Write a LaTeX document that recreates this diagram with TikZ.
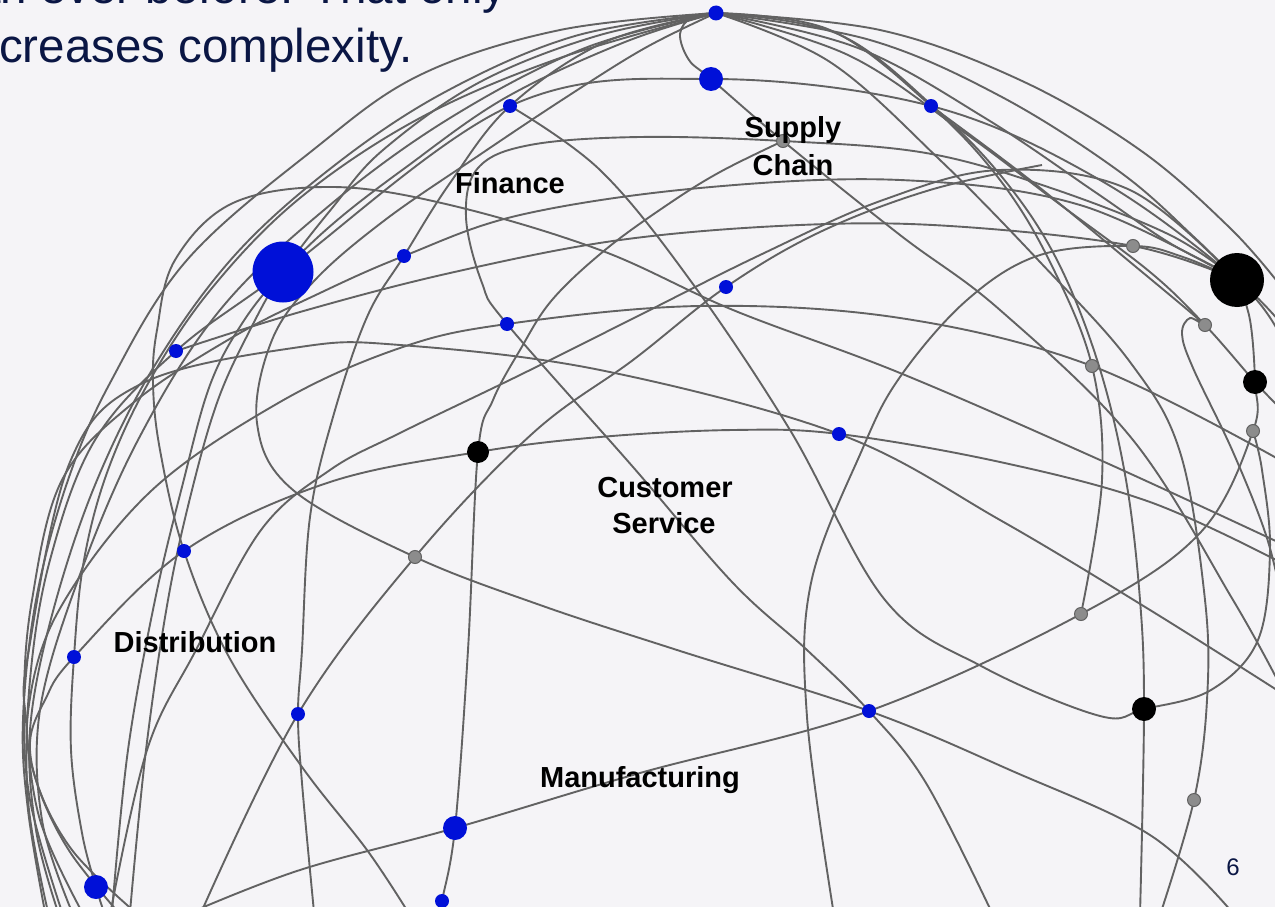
\documentclass[tikz,border=0pt]{standalone}
\usepackage{fontspec}
\setmainfont{Liberation Sans}
\definecolor{bg}{RGB}{245,244,247}
\definecolor{wirec}{RGB}{98,98,98}
\definecolor{dotblue}{RGB}{0,16,216}
\definecolor{dotgray}{RGB}{140,140,140}
\definecolor{navy}{RGB}{10,22,68}
\begin{document}
\begin{tikzpicture}[x=1pt,y=-1pt,
  wire/.style={draw=wirec, line width=1.9pt},
  bd/.style={circle, fill=dotblue, inner sep=0pt, minimum size=#1},
  kd/.style={circle, fill=black, inner sep=0pt, minimum size=#1},
  gd/.style={circle, fill=dotgray, draw=wirec, line width=1pt, inner sep=0pt, minimum size=#1},
  lab/.style={anchor=base, inner sep=0pt, text=black, font=\fontsize{29}{37}\selectfont\bfseries},
  head/.style={inner sep=0pt, text=navy, font=\fontsize{47.5}{56}\selectfont}]
\useasboundingbox (0,0) rectangle (1275,907);
\fill[bg] (0,0) rectangle (1275,907);
\begin{scope}
\clip (0,0) rectangle (1275,907);
% dot positions
\coordinate (bT) at (716,13);
\coordinate (bSC) at (711,79);
\coordinate (bF) at (510,106);
\coordinate (bTR) at (931,106);
\coordinate (bBig) at (283,272);
\coordinate (bW) at (404,256);
\coordinate (bG) at (176,351);
\coordinate (bJ) at (507,324);
\coordinate (bP) at (726,287);
\coordinate (bQ) at (839,434);
\coordinate (bN) at (184,551);
\coordinate (bU) at (74,657);
\coordinate (bW2) at (298,714);
\coordinate (bM) at (869,711);
\coordinate (bV) at (455,828);
\coordinate (bL) at (96,887);
\coordinate (bV2) at (442,901);
\coordinate (kR) at (1237,280);
\coordinate (kQ) at (478,452);
\coordinate (kE) at (1255,382);
\coordinate (kLp) at (1144,709);
\coordinate (gSC) at (783,141);
\coordinate (gH) at (1133,246);
\coordinate (gK) at (1205,325);
\coordinate (gD) at (1092,366);
\coordinate (gE) at (1253,431);
\coordinate (gF) at (415,557);
\coordinate (gD1) at (1081,614);
\coordinate (gD3) at (1194,800);
% curves
\begin{scope}[wire]
\draw plot[smooth, tension=0.6] coordinates {(bT) (560,30) (420,75) (313,150) (187,260) (110,383) (67,483) (36,600) (23,720) (28,810) (45,912)};
\draw plot[smooth, tension=0.6] coordinates {(bT) (575,36) (445,92) (335,165) (235,255) (155,365) (95,485) (52,615) (30,730) (36,830) (58,912)};
\draw plot[smooth, tension=0.6] coordinates {(bT) (585,48) (450,118) (330,205) (220,310) (138,440) (78,580) (40,710) (42,820) (72,912)};
\draw plot[smooth, tension=0.6] coordinates {(bT) (600,35) (480,82) (383,150) (333,207) (bBig) (250,330) (218,400) (192,490) (168,600) (146,750) (130,912)};
\draw plot[smooth, tension=0.6] coordinates {(bT) (625,42) (505,98) (405,168) (335,222) (bBig) (243,322) (210,385) (183,483) (155,600) (128,750) (112,912)};
\draw plot[smooth, tension=0.6] coordinates {(bT) (560,58) (420,118) (300,198) (212,288) (150,380) (108,470) (84,560) (bU) (71,750) (82,833) (bL) (104,912)};
\draw plot[smooth, tension=0.6] coordinates {(bT) (605,42) (bF) (450,183) (bW) (367,317) (333,417) (310,517) (302,650) (bW2) (302,783) (314,912)};
\draw plot[smooth, tension=0.6] coordinates {(bT) (645,48) (565,98) (475,158) (385,220) (315,280) (272,340) (257,423) (293,490) (gF) (540,605) (677,650) (bM) (1010,770) (1150,835) (1232,912)};
\draw plot[smooth, tension=0.6] coordinates {(48,912) (28,800) (30,680) (50,560) (95,440) (bG) (bBig) (bF) (bSC) (bTR) (1100,180) (kR) (1280,335)};
\draw plot[smooth, tension=0.6] coordinates {(bG) (300,312) (450,273) (620,240) (800,225) (950,226) (gH) (kR)};
\draw plot[smooth, tension=0.6] coordinates {(62,912) (30,800) (24,700) (32,600) (62,480) (133,403) (233,337) (320,293) (bW) (520,215) (700,188) (900,180) (1080,205) (kR)};
\draw plot[smooth, tension=0.6] coordinates {(408,912) (367,850) (302,767) (229,657) (bN) (160,450) (153,383) (157,330) (175,260) (233,203) (333,187) (450,205) (600,250) (733,310) (900,373) (1100,460) (1280,543)};
\draw plot[smooth, tension=0.6] coordinates {(118,912) (70,852) (40,792) (30,742) (45,700) (bU) (bN) (327,483) (kQ) (600,437) (733,430) (bQ) (1000,462) (1150,502) (1280,562)};
\draw plot[smooth, tension=0.6] coordinates {(135,912) (72,850) (36,780) (28,712) (58,612) (150,492) (280,402) (400,348) (bJ) (700,306) (900,318) (gD) (1280,460)};
\draw plot[smooth, tension=0.6] coordinates {(82,912) (40,820) (26,720) (28,655) (70,462) (143,383) (300,347) (400,345) (600,370) (bQ) (1000,520) (1150,610) (1280,692)};
\draw plot[smooth, tension=0.6] coordinates {(440,915) (bV2) (bV) (468,650) (kQ) (493,400) (520,350) (552,300) (605,250) (667,205) (720,172) (gSC)};
\draw plot[smooth, tension=0.6] coordinates {(200,915) (bW2) (gF) (533,433) (633,360) (bP) (820,232) (930,190) (1042,165)};
\draw plot[smooth, tension=0.6] coordinates {(993,915) (926,783) (bM) (807,650) (733,583) (633,467) (bJ) (482,283) (466,217) (478,168) (530,145) (640,137) (gSC) (926,153) (1048,187) (1170,235) (kR)};
\draw plot[smooth, tension=0.6] coordinates {(834,915) (807,717) (811,583) (862,450) (900,377) (967,300) (1040,255) (gH) (1183,257) (kR)};
\draw plot[smooth, tension=0.6] coordinates {(185,915) (300,870) (bV) (640,773) (bM) (gD1) (1200,533) (gE) (kE) (1250,320) (kR)};
\draw plot[smooth, tension=0.6] coordinates {(bT) (692,17) (680,34) (689,60) (bSC) (gSC) (900,235) (1000,310) (1133,440) (1233,600) (1280,685)};
\draw plot[smooth, tension=0.6] coordinates {(bT) (880,30) (1020,80) (1140,150) (1230,228) (1280,285)};
\draw plot[smooth, tension=0.6] coordinates {(bT) (870,40) (1000,96) (1120,172) (1195,238) (kR)};
\draw plot[smooth, tension=0.6] coordinates {(bT) (858,48) (985,118) (1095,192) (1168,242) (kR) (1280,322)};
\draw plot[smooth, tension=0.6] coordinates {(bT) (848,55) (958,128) (1058,203) (1150,272) (gK) (kE) (1280,408)};
\draw plot[smooth, tension=0.6] coordinates {(bT) (830,30) (bTR) (1000,180) (1050,262) (gD) (1102,480) (gD1)};
\draw plot[smooth, tension=0.6] coordinates {(bT) (838,34) (936,109) (1006,182) (1058,262) (1099,366) (1126,480) (1140,600) (kLp) (1140,915)};
\draw plot[smooth, tension=0.6] coordinates {(bT) (830,62) (940,160) (1040,262) (1130,362) (1180,452) (1205,600) (1207,700) (gD3) (1160,915)};
\draw plot[smooth, tension=0.6] coordinates {(bTR) (1030,180) (1130,262) (gK) (1190,318) (1182,334) (1193,368) (1233,452) (1266,535) (1282,600)};
\draw plot[smooth, tension=0.6] coordinates {(bF) (600,170) (690,280) (790,430) (885,600) (983,667) (1100,716) (kLp) (1211,690) (1258,640) (1270,550) (1262,470) (gE)};
\draw plot[smooth, tension=0.6] coordinates {(110,915) (147,750) (196,650) (261,530) (330,470) (400,433) (520,375) (640,315) (760,255) (883,200) (1000,170) (1130,190) (kR)};
\end{scope}
% dots
\node[bd=15pt] (nT) at (bT) {};
\node[bd=24pt] (nSC) at (bSC) {};
\node[bd=14pt] (nF) at (bF) {};
\node[bd=14pt] (nTR) at (bTR) {};
\node[bd=61pt] (nBig) at (bBig) {};
\node[bd=14pt] (nW) at (bW) {};
\node[bd=14pt] (nG) at (bG) {};
\node[bd=14pt] (nJ) at (bJ) {};
\node[bd=14pt] (nP) at (bP) {};
\node[bd=14pt] (nQ) at (bQ) {};
\node[bd=14pt] (nN) at (bN) {};
\node[bd=14pt] (nU) at (bU) {};
\node[bd=14pt] (nW2) at (bW2) {};
\node[bd=14pt] (nM) at (bM) {};
\node[bd=24pt] (nV) at (bV) {};
\node[bd=24pt] (nL) at (bL) {};
\node[bd=14pt] (nV2) at (bV2) {};
\node[kd=54pt] (mR) at (kR) {};
\node[kd=22pt] (mQ) at (kQ) {};
\node[kd=24pt] (mE) at (kE) {};
\node[kd=24pt] (mLp) at (kLp) {};
\node[gd=13pt] (oSC) at (gSC) {};
\node[gd=13pt] (oH) at (gH) {};
\node[gd=13pt] (oK) at (gK) {};
\node[gd=13pt] (oD) at (gD) {};
\node[gd=13pt] (oE) at (gE) {};
\node[gd=13pt] (oF) at (gF) {};
\node[gd=13pt] (oD1) at (gD1) {};
\node[gd=13pt] (oD3) at (gD3) {};
% labels
\node[lab] (tFin) at (510,193) {Finance};
\node[lab] (tSup) at (793,137) {Supply};
\node[lab] (tCha) at (793,175) {Chain};
\node[lab] (tCus) at (665,497) {Customer};
\node[lab] (tSer) at (664,533) {Service};
\node[lab] (tDis) at (195,652) {Distribution};
\node[lab] (tMan) at (640,787) {Manufacturing};
% header text and page number
\node[head, anchor=base east] (h1) at (507,4) {an ever before. That only};
\node[head, anchor=base west] (h2) at (-1,63) {creases complexity.};
\node[anchor=base, inner sep=0pt, text=navy, font=\fontsize{24}{28}\selectfont] (pg) at (1233,875) {6};
\end{scope}
\end{tikzpicture}
\end{document}
